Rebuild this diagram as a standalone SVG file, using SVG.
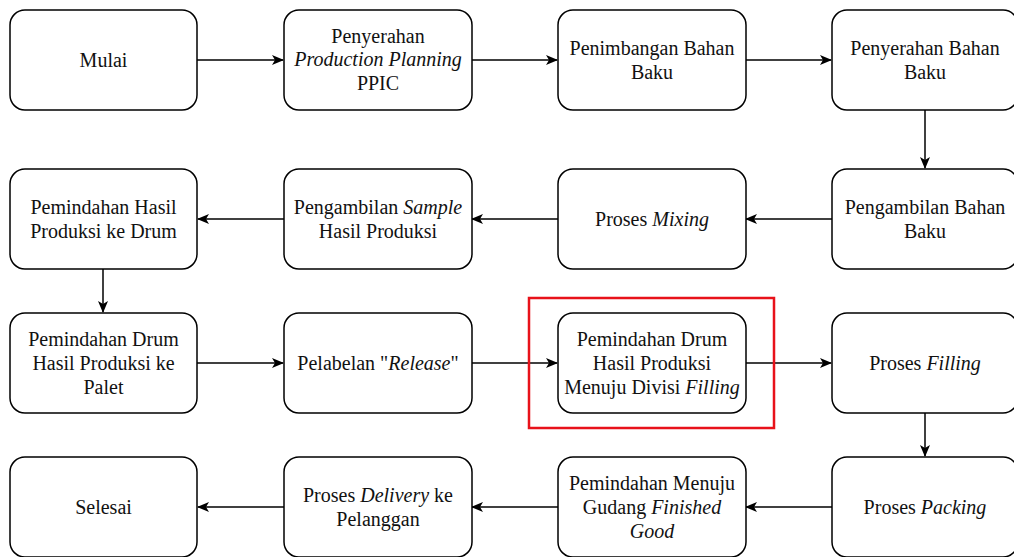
<svg xmlns="http://www.w3.org/2000/svg" width="1014" height="557" viewBox="0 0 1014 557">
<style>
.box{fill:#fff;stroke:#000;stroke-width:1.5}
text{font-family:'Liberation Serif','Times New Roman',Tinos,'DejaVu Serif',serif;font-size:20px;fill:#111;text-anchor:middle}
.i{font-style:italic}
.c{stroke:#000;stroke-width:1.5;fill:none;marker-end:url(#a)}
</style>
<defs>
<marker id="a" viewBox="0 0 12 12" refX="11" refY="6" markerWidth="12" markerHeight="12" markerUnits="userSpaceOnUse" orient="auto">
<path d="M0,1 L12,6 L0,11 L3,6 z" fill="#000"/>
</marker>
</defs>
<rect width="1014" height="557" fill="#fff"/>
<g id="connectors">
<path class="c" d="M197,60 H283"/>
<path class="c" d="M471,60 H557"/>
<path class="c" d="M745,60 H831"/>
<path class="c" d="M925,110 V168"/>
<path class="c" d="M832,219 H746"/>
<path class="c" d="M558,219 H472"/>
<path class="c" d="M284,219 H198"/>
<path class="c" d="M103,269 V312"/>
<path class="c" d="M197,363 H283"/>
<path class="c" d="M471,363 H557"/>
<path class="c" d="M745,363 H831"/>
<path class="c" d="M925,413 V456"/>
<path class="c" d="M832,507 H746"/>
<path class="c" d="M558,507 H472"/>
<path class="c" d="M284,507 H198"/>
</g>
<g id="n1"><rect class="box" x="10" y="10" width="187" height="100" rx="15"/><text x="103.5" y="67">Mulai</text></g>
<g id="n2"><rect class="box" x="284" y="10" width="188" height="100" rx="15"/><text x="378" y="43">Penyerahan</text><text x="378" y="66" class="i">Production Planning</text><text x="378" y="90">PPIC</text></g>
<g id="n3"><rect class="box" x="558" y="10" width="188" height="100" rx="15"/><text x="652" y="55">Penimbangan Bahan</text><text x="652" y="79">Baku</text></g>
<g id="n4"><rect class="box" x="832" y="10" width="186" height="100" rx="15"/><text x="925" y="55">Penyerahan Bahan</text><text x="925" y="79">Baku</text></g>
<g id="n5"><rect class="box" x="832" y="169" width="186" height="100" rx="15"/><text x="925" y="214">Pengambilan Bahan</text><text x="925" y="238">Baku</text></g>
<g id="n6"><rect class="box" x="558" y="169" width="188" height="100" rx="15"/><text x="652" y="226">Proses <tspan class="i">Mixing</tspan></text></g>
<g id="n7"><rect class="box" x="284" y="169" width="188" height="100" rx="15"/><text x="378" y="214">Pengambilan <tspan class="i">Sample</tspan></text><text x="378" y="238">Hasil Produksi</text></g>
<g id="n8"><rect class="box" x="10" y="169" width="187" height="100" rx="15"/><text x="103.5" y="214">Pemindahan Hasil</text><text x="103.5" y="238">Produksi ke Drum</text></g>
<g id="n9"><rect class="box" x="10" y="313" width="187" height="100" rx="15"/><text x="103.5" y="346">Pemindahan Drum</text><text x="103.5" y="370">Hasil Produksi ke</text><text x="103.5" y="394">Palet</text></g>
<g id="n10"><rect class="box" x="284" y="313" width="188" height="100" rx="15"/><text x="378" y="370">Pelabelan "<tspan class="i">Release</tspan>"</text></g>
<g id="n11"><rect class="box" x="558" y="313" width="188" height="100" rx="15"/><text x="652" y="346">Pemindahan Drum</text><text x="652" y="370">Hasil Produksi</text><text x="652" y="394">Menuju Divisi <tspan class="i">Filling</tspan></text></g>
<g id="n12"><rect class="box" x="832" y="313" width="186" height="100" rx="15"/><text x="925" y="370">Proses <tspan class="i">Filling</tspan></text></g>
<g id="n13"><rect class="box" x="832" y="457" width="186" height="100" rx="15"/><text x="925" y="514">Proses <tspan class="i">Packing</tspan></text></g>
<g id="n14"><rect class="box" x="558" y="457" width="188" height="100" rx="15"/><text x="652" y="490">Pemindahan Menuju</text><text x="652" y="514">Gudang <tspan class="i">Finished</tspan></text><text x="652" y="538" class="i">Good</text></g>
<g id="n15"><rect class="box" x="284" y="457" width="188" height="100" rx="15"/><text x="378" y="502">Proses <tspan class="i">Delivery</tspan> ke</text><text x="378" y="526">Pelanggan</text></g>
<g id="n16"><rect class="box" x="10" y="457" width="187" height="100" rx="15"/><text x="103.5" y="514">Selesai</text></g>
<g id="highlight"><rect x="529" y="298" width="245" height="130" fill="none" stroke="#e8121a" stroke-width="2.5"/></g>
</svg>
